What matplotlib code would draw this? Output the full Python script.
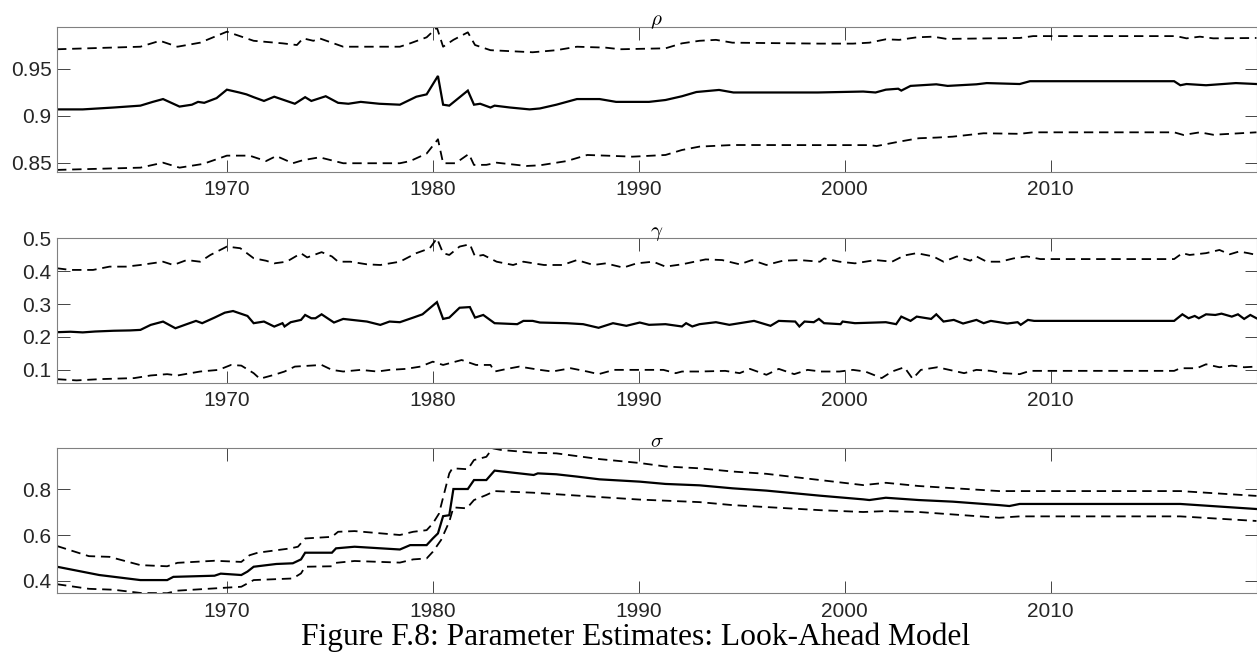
import matplotlib
matplotlib.use("Agg")
import matplotlib.pyplot as plt

# ---------------- data ----------------
rho_mid_x = [1961.75, 1963.0, 1964.5, 1965.8, 1966.4, 1966.9, 1967.7, 1968.3, 1968.6, 1968.9, 1969.5, 1970.0,
             1970.6, 1970.95, 1971.3, 1971.8, 1972.3, 1973.3, 1973.8, 1974.1, 1974.8, 1975.4, 1975.9, 1976.5,
             1977.4, 1978.4, 1979.2, 1979.7, 1980.25, 1980.5, 1980.8, 1981.7, 1982.0, 1982.3, 1982.8, 1983.0,
             1983.75, 1984.7, 1985.2, 1986.0, 1987.0, 1988.1, 1988.9, 1990.5, 1991.3, 1992.1, 1992.8, 1993.9,
             1994.6, 1996.2, 1998.7, 2000.9, 2001.5, 2002.0, 2002.6, 2002.75, 2003.2, 2004.45, 2005.0, 2006.4,
             2006.9, 2008.5, 2009.0, 2016.0, 2016.3, 2016.6, 2017.55, 2019.0, 2020.0]
rho_mid_y = [0.907, 0.907, 0.909, 0.911, 0.915, 0.918, 0.910, 0.912, 0.915, 0.914, 0.919, 0.928,
             0.925, 0.923, 0.920, 0.916, 0.9205, 0.913, 0.920, 0.916, 0.921, 0.914, 0.913, 0.915,
             0.913, 0.912, 0.9205, 0.923, 0.9426, 0.912, 0.911, 0.927, 0.912, 0.913, 0.909, 0.911,
             0.909, 0.907, 0.908, 0.912, 0.918, 0.918, 0.915, 0.915, 0.917, 0.921, 0.9255, 0.9277,
             0.925, 0.925, 0.925, 0.926, 0.925, 0.928, 0.929, 0.927, 0.932, 0.9337, 0.932, 0.9337,
             0.935, 0.934, 0.937, 0.937, 0.9327, 0.934, 0.9327, 0.935, 0.934]

rho_up_x = [1961.75, 1965.8, 1966.75, 1967.6, 1968.7, 1970.0, 1971.3, 1972.7, 1973.4, 1973.7, 1974.2, 1974.5,
            1975.65, 1978.4, 1978.9, 1979.7, 1980.2, 1980.5, 1981.0, 1981.7, 1982.05, 1982.8, 1984.85, 1986.0,
            1987.0, 1988.4, 1989.1, 1991.3, 1992.1, 1992.95, 1993.75, 1994.55, 1998.8, 2000.4, 2001.2, 2002.0,
            2002.65, 2003.5, 2004.3, 2004.95, 2008.5, 2009.15, 2016.1, 2016.6, 2017.25, 2017.9, 2020.0]
rho_up_y = [0.971, 0.9737, 0.980, 0.9737, 0.978, 0.9897, 0.980, 0.9773, 0.9755, 0.9826, 0.980, 0.9826,
            0.9737, 0.9737, 0.9773, 0.9837, 0.994, 0.9737, 0.981, 0.989, 0.9755, 0.970, 0.9678, 0.970,
            0.9737, 0.9727, 0.971, 0.972, 0.9773, 0.980, 0.981, 0.978, 0.977, 0.977, 0.978, 0.9816,
            0.981, 0.9837, 0.9844, 0.982, 0.983, 0.985, 0.985, 0.9826, 0.9844, 0.9826, 0.983]

rho_lo_x = [1961.75, 1965.8, 1966.9, 1967.7, 1968.85, 1970.0, 1971.1, 1971.9, 1972.4, 1973.2, 1973.7, 1974.5,
            1975.65, 1978.4, 1978.9, 1979.7, 1980.25, 1980.5, 1981.1, 1981.75, 1982.0, 1982.6, 1983.1, 1984.55,
            1985.2, 1986.5, 1987.5, 1988.4, 1989.7, 1991.3, 1992.1, 1992.95, 1994.55, 1998.8, 2001.2, 2001.55,
            2002.65, 2003.6, 2004.45, 2005.25, 2006.75, 2008.5, 2009.15, 2016.0, 2016.45, 2017.25, 2017.9, 2020.0]
rho_lo_y = [0.8426, 0.845, 0.8503, 0.845, 0.849, 0.8578, 0.8578, 0.852, 0.8574, 0.8497, 0.853, 0.856,
            0.8497, 0.8497, 0.852, 0.860, 0.8752, 0.8497, 0.8497, 0.8596, 0.8479, 0.848, 0.8503, 0.8468,
            0.8475, 0.852, 0.8585, 0.8578, 0.8567, 0.8585, 0.8638, 0.8674, 0.8691, 0.869, 0.869, 0.868,
            0.8727, 0.8763, 0.877, 0.878, 0.8816, 0.881, 0.8826, 0.8826, 0.8798, 0.8826, 0.880, 0.8826]

gam_mid_x = [1961.75, 1962.4, 1963.0, 1963.6, 1964.5, 1965.3, 1965.8, 1966.3, 1966.9, 1967.5, 1968.05, 1968.5,
             1968.8, 1969.4, 1969.9, 1970.3, 1971.0, 1971.3, 1971.8, 1972.3, 1972.7, 1972.8, 1973.1, 1973.6,
             1973.8, 1974.1, 1974.3, 1974.6, 1975.2, 1975.65, 1976.8, 1977.45, 1977.9, 1978.4, 1979.05, 1979.5,
             1980.2, 1980.5, 1980.8, 1981.3, 1981.8, 1982.05, 1982.45, 1983.0, 1984.1, 1984.4, 1984.85, 1985.2,
             1986.5, 1987.3, 1988.05, 1988.75, 1989.4, 1990.05, 1990.5, 1991.3, 1992.1, 1992.3, 1992.6, 1992.95,
             1993.75, 1994.4, 1995.6, 1996.4, 1996.8, 1997.6, 1997.8, 1998.05, 1998.5, 1998.75, 1999.0, 1999.8,
             1999.9, 2000.5, 2002.0, 2002.5, 2002.75, 2003.2, 2003.5, 2004.2, 2004.45, 2004.8, 2005.3, 2005.75,
             2006.4, 2006.75, 2007.1, 2007.9, 2008.4, 2008.55, 2008.9, 2009.2, 2016.0, 2016.4, 2016.7, 2017.0,
             2017.2, 2017.55, 2018.0, 2018.3, 2018.8, 2019.1, 2019.4, 2019.7, 2020.0]
gam_mid_y = [0.2146, 0.216, 0.214, 0.2167, 0.219, 0.220, 0.2216, 0.2368, 0.2469, 0.2266, 0.239, 0.249,
             0.242, 0.259, 0.274, 0.279, 0.264, 0.242, 0.247, 0.2317, 0.242, 0.232, 0.245, 0.252,
             0.267, 0.257, 0.257, 0.269, 0.244, 0.255, 0.247, 0.2368, 0.247, 0.245, 0.259, 0.269,
             0.306, 0.255, 0.259, 0.289, 0.291, 0.259, 0.267, 0.242, 0.239, 0.249, 0.249, 0.244,
             0.242, 0.239, 0.228, 0.242, 0.234, 0.244, 0.237, 0.239, 0.232, 0.242, 0.232, 0.239,
             0.245, 0.237, 0.249, 0.234, 0.249, 0.247, 0.232, 0.247, 0.245, 0.255, 0.242, 0.239,
             0.247, 0.242, 0.245, 0.239, 0.262, 0.249, 0.262, 0.255, 0.269, 0.247, 0.252, 0.241,
             0.252, 0.242, 0.249, 0.241, 0.245, 0.237, 0.252, 0.249, 0.249, 0.269, 0.257, 0.264,
             0.257, 0.269, 0.267, 0.271, 0.262, 0.269, 0.255, 0.267, 0.257]

gam_up_x = [1961.75, 1962.4, 1963.5, 1964.3, 1965.1, 1965.8, 1966.9, 1967.4, 1968.05, 1968.7, 1969.2, 1970.0,
            1970.65, 1971.3, 1971.9, 1972.3, 1972.9, 1973.6, 1973.9, 1974.6, 1975.1, 1975.4, 1976.0, 1976.8,
            1977.45, 1978.4, 1979.2, 1979.85, 1980.2, 1980.5, 1980.8, 1981.3, 1981.8, 1982.05, 1982.45, 1983.1,
            1983.9, 1984.4, 1985.4, 1986.3, 1987.0, 1987.8, 1988.4, 1989.25, 1989.9, 1990.7, 1991.3, 1992.1,
            1993.25, 1994.05, 1994.9, 1995.5, 1996.2, 1997.0, 1997.8, 1998.8, 1999.0, 1999.75, 2000.5, 2001.5,
            2002.3, 2002.9, 2003.5, 2004.3, 2004.8, 2005.45, 2006.1, 2006.4, 2006.9, 2007.55, 2008.2, 2008.85,
            2009.5, 2016.0, 2016.4, 2016.75, 2017.55, 2018.2, 2018.7, 2019.15, 2019.6, 2020.0]
gam_up_y = [0.409, 0.404, 0.404, 0.414, 0.414, 0.419, 0.429, 0.419, 0.434, 0.429, 0.4495, 0.475,
            0.470, 0.4395, 0.432, 0.424, 0.429, 0.4546, 0.442, 0.458, 0.445, 0.429, 0.429, 0.421,
            0.419, 0.429, 0.455, 0.4697, 0.500, 0.455, 0.4495, 0.475, 0.482, 0.445, 0.4495, 0.429,
            0.419, 0.429, 0.419, 0.419, 0.434, 0.419, 0.424, 0.411, 0.424, 0.429, 0.414, 0.421,
            0.436, 0.434, 0.421, 0.434, 0.419, 0.432, 0.434, 0.429, 0.439, 0.429, 0.424, 0.434,
            0.429, 0.448, 0.455, 0.445, 0.429, 0.445, 0.432, 0.445, 0.429, 0.429, 0.439, 0.445,
            0.437, 0.437, 0.455, 0.4495, 0.455, 0.4647, 0.4515, 0.460, 0.455, 0.4495]

gam_lo_x = [1961.75, 1962.7, 1963.9, 1965.5, 1966.3, 1967.1, 1967.6, 1968.7, 1969.6, 1970.2, 1970.7, 1971.3,
            1971.6, 1972.3, 1972.8, 1973.3, 1974.6, 1975.1, 1975.65, 1976.5, 1977.3, 1977.9, 1978.7, 1979.4,
            1980.0, 1980.5, 1981.4, 1982.1, 1982.8, 1983.0, 1983.6, 1984.2, 1985.2, 1985.8, 1986.7, 1987.5,
            1988.05, 1988.8, 1990.05, 1991.2, 1991.8, 1992.1, 1992.95, 1994.2, 1994.9, 1995.4, 1996.2, 1996.8,
            1997.55, 1998.2, 1998.85, 1999.75, 2000.4, 2001.0, 2001.8, 2002.3, 2002.9, 2003.3, 2003.7, 2004.5,
            2005.3, 2005.8, 2006.4, 2007.1, 2007.7, 2008.5, 2009.0, 2016.0, 2016.3, 2017.1, 2017.55, 2018.2,
            2018.8, 2019.4, 2020.0]
gam_lo_y = [0.0717, 0.068, 0.072, 0.075, 0.083, 0.087, 0.083, 0.095, 0.100, 0.115, 0.113, 0.090,
            0.073, 0.085, 0.095, 0.110, 0.115, 0.100, 0.095, 0.100, 0.095, 0.100, 0.103, 0.110,
            0.125, 0.115, 0.130, 0.115, 0.115, 0.095, 0.103, 0.110, 0.100, 0.095, 0.105, 0.095,
            0.087, 0.100, 0.100, 0.100, 0.090, 0.095, 0.095, 0.097, 0.090, 0.103, 0.085, 0.103,
            0.087, 0.100, 0.095, 0.095, 0.100, 0.095, 0.075, 0.095, 0.108, 0.073, 0.100, 0.108,
            0.097, 0.090, 0.100, 0.097, 0.090, 0.087, 0.097, 0.097, 0.105, 0.105, 0.117, 0.108,
            0.113, 0.108, 0.110]

sig_mid_x = [1961.75, 1963.8, 1965.8, 1967.1, 1967.4, 1969.4, 1969.7, 1970.7, 1971.0, 1971.3, 1972.4, 1973.2,
             1973.6, 1973.8, 1975.1, 1975.3, 1976.2, 1978.4, 1978.9, 1979.7, 1980.0, 1980.25, 1980.5, 1980.8,
             1981.0, 1981.7, 1982.0, 1982.6, 1983.0, 1984.9, 1985.1, 1986.0, 1987.0, 1988.1, 1990.05, 1991.3,
             1992.95, 1994.55, 1996.2, 1998.8, 2000.9, 2001.2, 2002.0, 2003.6, 2005.25, 2007.5, 2008.0, 2008.5,
             2016.3, 2020.0]
sig_mid_y = [0.462, 0.426, 0.404, 0.404, 0.418, 0.423, 0.432, 0.426, 0.441, 0.462, 0.474, 0.477,
             0.494, 0.523, 0.523, 0.542, 0.549, 0.537, 0.556, 0.556, 0.585, 0.607, 0.682, 0.686,
             0.800, 0.800, 0.839, 0.839, 0.880, 0.861, 0.868, 0.864, 0.854, 0.842, 0.832, 0.822,
             0.816, 0.803, 0.793, 0.771, 0.755, 0.752, 0.762, 0.752, 0.745, 0.730, 0.726, 0.735,
             0.735, 0.713]

sig_up_x = [1961.75, 1963.3, 1964.3, 1965.8, 1967.1, 1967.6, 1969.4, 1970.7, 1971.1, 1971.5, 1973.1, 1973.45,
            1973.8, 1975.1, 1975.4, 1976.2, 1978.4, 1979.05, 1979.7, 1980.0, 1980.3, 1980.8, 1980.95, 1981.7,
            1982.0, 1982.6, 1982.9, 1983.3, 1984.85, 1986.0, 1988.1, 1990.05, 1991.3, 1992.95, 1994.55, 1996.2,
            1998.8, 2000.9, 2002.0, 2003.6, 2007.5, 2016.3, 2020.0]
sig_up_y = [0.552, 0.508, 0.505, 0.469, 0.464, 0.479, 0.488, 0.483, 0.512, 0.523, 0.542, 0.549,
            0.585, 0.592, 0.614, 0.617, 0.600, 0.614, 0.621, 0.650, 0.693, 0.868, 0.890, 0.886,
            0.926, 0.940, 0.977, 0.970, 0.958, 0.955, 0.930, 0.913, 0.898, 0.890, 0.876, 0.866,
            0.839, 0.817, 0.827, 0.813, 0.791, 0.791, 0.770]

sig_lo_x = [1961.75, 1963.3, 1964.5, 1965.8, 1967.1, 1967.6, 1968.7, 1970.7, 1971.3, 1973.2, 1973.6, 1973.8,
            1975.1, 1975.3, 1976.2, 1978.4, 1979.05, 1979.7, 1980.0, 1980.4, 1980.8, 1981.0, 1981.65, 1982.0,
            1982.6, 1983.0, 1984.85, 1988.1, 1990.05, 1992.95, 1994.55, 1998.8, 2000.9, 2002.0, 2003.6, 2007.5,
            2008.5, 2016.3, 2020.0]
sig_lo_y = [0.386, 0.366, 0.362, 0.348, 0.347, 0.358, 0.364, 0.375, 0.404, 0.411, 0.433, 0.462,
            0.464, 0.479, 0.487, 0.480, 0.494, 0.498, 0.527, 0.578, 0.658, 0.720, 0.716, 0.752,
            0.774, 0.791, 0.784, 0.765, 0.754, 0.743, 0.730, 0.708, 0.700, 0.704, 0.700, 0.675,
            0.681, 0.681, 0.661]

titles = [r"$\rho$", r"$\gamma$", r"$\sigma$"]
x_ticks = [1970, 1980, 1990, 2000, 2010]
y_ticks = [[0.85, 0.9, 0.95], [0.1, 0.2, 0.3, 0.4, 0.5], [0.4, 0.6, 0.8]]
y_ticklabels = [["0.85", "0.9", "0.95"], ["0.1", "0.2", "0.3", "0.4", "0.5"], ["0.4", "0.6", "0.8"]]
caption = "Figure F.8: Parameter Estimates: Look-Ahead Model"

# ---------------- figure ----------------
plt.rcParams["mathtext.fontset"] = "cm"
W, H = 1257, 656
fig = plt.figure(figsize=(W / 100, H / 100), dpi=100)

panels = [
    (rho_mid_x, rho_mid_y, rho_up_x, rho_up_y, rho_lo_x, rho_lo_y, (0.8407, 0.995)),
    (gam_mid_x, gam_mid_y, gam_up_x, gam_up_y, gam_lo_x, gam_lo_y, (0.061, 0.502)),
    (sig_mid_x, sig_mid_y, sig_up_x, sig_up_y, sig_lo_x, sig_lo_y, (0.3465, 0.977)),
]
tops = [26.7, 237.7, 448.3]
ax_h = 145.0
left_px, right_px = 57.0, 1256.5
grey = "#262626"
dash = (0, (5.2, 3.2))

for i, (mx, my, ux, uy, lx, ly, yl) in enumerate(panels):
    ax = fig.add_axes([left_px / W, 1 - (tops[i] + ax_h) / H, (right_px - left_px) / W, ax_h / H])
    ax.plot(mx, my, color="black", lw=1.6, solid_joinstyle="miter")
    ax.plot(ux, uy, color="black", lw=1.3, linestyle=dash)
    ax.plot(lx, ly, color="black", lw=1.3, linestyle=dash)
    ax.set_xlim(1961.75, 2020.0)
    ax.set_ylim(*yl)
    ax.set_xticks(x_ticks)
    ax.set_xticklabels([str(t) for t in x_ticks])
    ax.set_yticks(y_ticks[i])
    ax.set_yticklabels(y_ticklabels[i])
    ax.tick_params(direction="in", length=9, width=0.6, color=grey, labelcolor=grey,
                   top=True, right=True, labelsize=15)
    ax.tick_params(axis="x", pad=6)
    ax.tick_params(axis="y", pad=4)
    for lab in ax.get_xticklabels() + ax.get_yticklabels():
        lab.set_family("Liberation Sans")
    for sp in ax.spines.values():
        sp.set_color("#808080")
        sp.set_linewidth(0.8)
    ax.set_title(titles[i], fontsize=15, pad=1, color="black")

fig.text(636 / W, 1 - 637 / H, caption, ha="center", va="center",
         fontsize=22.7, family="Liberation Serif", color="black")

fig.savefig("out.png", dpi=100)
